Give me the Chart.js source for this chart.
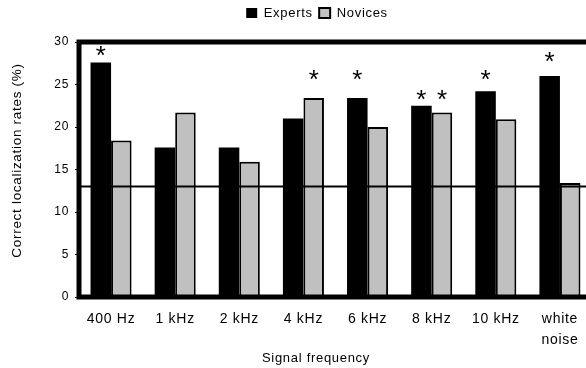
<!DOCTYPE html>
<html><head><meta charset="utf-8">
<script src="https://cdn.jsdelivr.net/npm/chart.js@4.4.1/dist/chart.umd.min.js"></script>
<style>
html,body{margin:0;padding:0;background:#fff;overflow:hidden;}
#wrap{position:relative;width:600px;height:368px;}
</style></head><body>
<div id="wrap"><canvas id="c"></canvas></div>
<script>
// ---- data ----
const categories = ['400 Hz', '1 kHz', '2 kHz', '4 kHz', '6 kHz', '8 kHz', '10 kHz', ['white', 'noise']];
const seriesNames = ['Experts', 'Novices'];
const experts = [27.6, 17.6, 17.6, 21.0, 23.4, 22.5, 24.2, 26.0];
const novices = [18.4, 21.7, 15.9, 23.4, 20.0, 21.7, 20.9, 13.4];
const chanceLevel = 13;
const yTicks = [0, 5, 10, 15, 20, 25, 30];
// significance marks: category index, series index, y level of mark
const asteriskCategories = [0, 3, 4, 5, 5, 6, 7];
const asteriskSeries = [0, 1, 0, 0, 1, 0, 0];
const asteriskLevels = [29.0, 26.1, 26.1, 23.8, 23.8, 26.1, 28.2];

const FONT = '"Liberation Sans", Arial, sans-serif';
Chart.defaults.font.family = FONT;
Chart.defaults.font.size = 13;
Chart.defaults.color = '#000';

const framePlugin = {
  id: 'frame',
  beforeUpdate(chart) { chart.ctx.letterSpacing = '0.7px'; },
  beforeDraw(chart) { chart.ctx.letterSpacing = '0.7px'; },
  beforeLayout(chart) {
    const lg = chart.legend;
    if (lg && !lg._patched) {
      const f = lg.fit;
      lg.fit = function () { f.call(this); this.height = 42; };
      lg._patched = true;
    }
  },
  afterLayout(chart) {
    const lg = chart.legend;
    if (lg) { lg.left += 21; lg.right += 21; }
    const tt = chart.titleBlock;
    if (tt) { tt.left += 20; tt.right += 20; }
    const ys = chart.scales.y;
    if (ys && !ys._patched) {
      const d = ys.drawTitle;
      ys.drawTitle = function (...args) { this.top -= 18; d.apply(this, args); this.top += 18; };
      ys._patched = true;
    }
  },
  afterDatasetsDraw(chart) {
    const {ctx, chartArea: a, scales} = chart;
    ctx.save();
    const yc = scales.y.getPixelForValue(chanceLevel);
    ctx.strokeStyle = '#000';
    ctx.lineWidth = 2;
    ctx.beginPath();
    ctx.moveTo(a.left, yc);
    ctx.lineTo(a.right, yc);
    ctx.stroke();
    ctx.lineWidth = 5;
    ctx.strokeRect(a.left, a.top, a.right - a.left, a.bottom - a.top);
    ctx.letterSpacing = '0px';
    ctx.font = '26px ' + FONT;
    ctx.fillStyle = '#000';
    ctx.textAlign = 'center';
    ctx.textBaseline = 'alphabetic';
    const m = ctx.measureText('*');
    const off = (m.actualBoundingBoxAscent - m.actualBoundingBoxDescent) / 2;
    asteriskCategories.forEach((c, i) => {
      const bar = chart.getDatasetMeta(asteriskSeries[i]).data[c];
      const y = scales.y.getPixelForValue(asteriskLevels[i]);
      ctx.fillText('*', bar.x, y + off);
    });
    ctx.restore();
  }
};

new Chart(document.getElementById('c'), {
  type: 'bar',
  data: {
    labels: categories,
    datasets: [
      {label: seriesNames[0], data: experts, backgroundColor: '#000', borderColor: '#000', borderWidth: 0},
      {label: seriesNames[1], data: novices, backgroundColor: '#c0c0c0', borderColor: '#000', borderWidth: 2, borderSkipped: 'bottom'}
    ]
  },
  options: {
    responsive: true,
    maintainAspectRatio: false,
    animation: false,
    layout: {padding: {left: 0, right: 8, top: 0, bottom: 0}},
    datasets: {bar: {categoryPercentage: 0.64, barPercentage: 1}},
    plugins: {
      legend: {position: 'top', labels: {boxWidth: 11, boxHeight: 10, padding: 6.5, color: '#000', font: {size: 13}}},
      title: {display: true, position: 'bottom', text: 'Signal frequency', color: '#000',
              font: {size: 13, weight: 'normal'}, padding: {top: 0, bottom: 2}},
      tooltip: {enabled: false}
    },
    scales: {
      x: {
        grid: {display: false},
        border: {display: false},
        ticks: {padding: 4, maxRotation: 0, autoSkip: false, font: {size: 14, lineHeight: 1.47}},
        afterFit(s) { s.height = 53.4; }
      },
      y: {
        min: 0, max: 30,
        afterBuildTicks(s) { s.ticks = yTicks.map(v => ({value: v})); },
        grid: {drawOnChartArea: false, drawTicks: true, tickLength: 4, color: '#000', lineWidth: 1},
        border: {display: false},
        ticks: {padding: 6, font: {size: 12}},
        title: {display: true, text: 'Correct localization rates (%)', font: {size: 13.5}, padding: {top: 9, bottom: 0}},
        afterFit(s) { s.width = 79; }
      }
    }
  },
  plugins: [framePlugin]
});
</script>
</body></html>
